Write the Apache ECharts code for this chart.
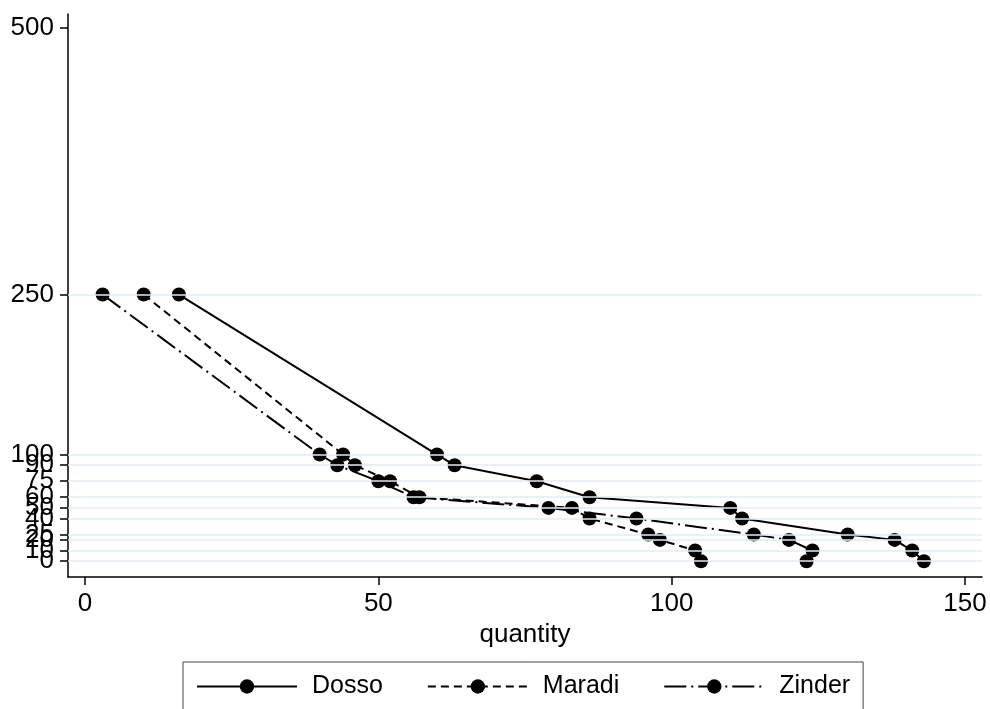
<!DOCTYPE html>
<html>
<head>
<meta charset="utf-8">
<script src="https://cdn.jsdelivr.net/npm/echarts@6/dist/echarts.min.js"></script>
<style>
  html, body { margin: 0; padding: 0; background: #fff; }
  #chart { width: 990px; height: 709px; }
</style>
</head>
<body>
<div id="chart"></div>
<script>
// price levels (y) shared by all three regions
var levels = [250, 100, 90, 75, 60, 50, 40, 25, 20, 10, 0];
var dosso = [16, 60, 63, 77, 86, 110, 112, 130, 138, 141, 143];
var maradi = [10, 44, 46, 52, 57, 83, 86, 96, 98, 104, 105];
var zinder = [3, 40, 43, 50, 56, 79, 94, 114, 120, 124, 123];
var yTicks = [0, 10, 20, 25, 40, 50, 60, 75, 90, 100, 250, 500];
var xTicks = [0, 50, 100, 150];

var font = 'Liberation Sans, Arial, Helvetica, sans-serif';
var yMin = -14.8, yMax = 513;

function pairs(qty) {
    return qty.map(function (q, i) { return [q, levels[i]]; });
}

function lineSeries(name, qty, dash) {
    return {
        name: name,
        type: 'line',
        data: pairs(qty),
        symbol: 'circle',
        symbolSize: 14,
        showAllSymbol: true,
        itemStyle: { color: '#000' },
        lineStyle: { color: '#000', width: 2, type: dash },
        z: 3,
        animation: false
    };
}

// echarts drops colliding labels, the reference keeps them all overlapping,
// so every y tick gets its own overlaid axis
function yAxisFor(ticks, showLine) {
    return {
        type: 'value',
        position: 'left',
        min: yMin,
        max: yMax,
        splitLine: { show: false },
        axisLine: { show: showLine, onZero: false, lineStyle: { color: '#000', width: 1.5 } },
        axisTick: { show: true, length: 8, lineStyle: { color: '#000', width: 1.5 }, customValues: ticks },
        axisLabel: { color: '#000', fontSize: 26, fontFamily: font, margin: 14, hideOverlap: false, customValues: ticks }
    };
}
var yAxes = yTicks.map(function (v, i) { return yAxisFor([v], i === 0); });

var chart = echarts.init(document.getElementById('chart'));
var option = {
    backgroundColor: '#fff',
    grid: { left: 68, top: 14, right: 8, bottom: 132, containLabel: false },
    xAxis: {
        type: 'value',
        min: -2.9,
        max: 152.9,
        splitLine: { show: false },
        axisLine: { show: true, onZero: false, lineStyle: { color: '#000', width: 1.5 } },
        axisTick: { show: true, length: 8, lineStyle: { color: '#000', width: 1.5 }, customValues: xTicks },
        axisLabel: { color: '#000', fontSize: 26, fontFamily: font, margin: 14, customValues: xTicks },
        name: 'quantity',
        nameLocation: 'middle',
        nameGap: 44,
        nameTextStyle: { color: '#000', fontSize: 26, fontFamily: font }
    },
    yAxis: yAxes,
    legend: {
        left: 183,
        top: 662,
        orient: 'horizontal',
        padding: [12, 13, 13, 13],
        borderColor: '#444',
        borderWidth: 1,
        itemWidth: 100,
        itemHeight: 18,
        itemGap: 44,
        textStyle: { color: '#000', fontSize: 25, fontFamily: font, padding: [0, 0, 0, 10] },
        data: ['Dosso', 'Maradi', 'Zinder']
    },
    series: [
        {
            name: 'grid',
            type: 'line',
            data: [],
            z: 1,
            silent: true,
            markLine: {
                silent: true,
                symbol: 'none',
                animation: false,
                label: { show: false },
                lineStyle: { color: '#e1edf1', width: 1.5, type: 'solid' },
                data: yTicks.filter(function (v) { return v < 500; }).map(function (v) { return { yAxis: v }; })
            }
        },
        lineSeries('Dosso', dosso, 'solid'),
        lineSeries('Maradi', maradi, [8, 5]),
        lineSeries('Zinder', zinder, [22, 5, 2, 5])
    ]
};
chart.setOption(option);
</script>
</body>
</html>
